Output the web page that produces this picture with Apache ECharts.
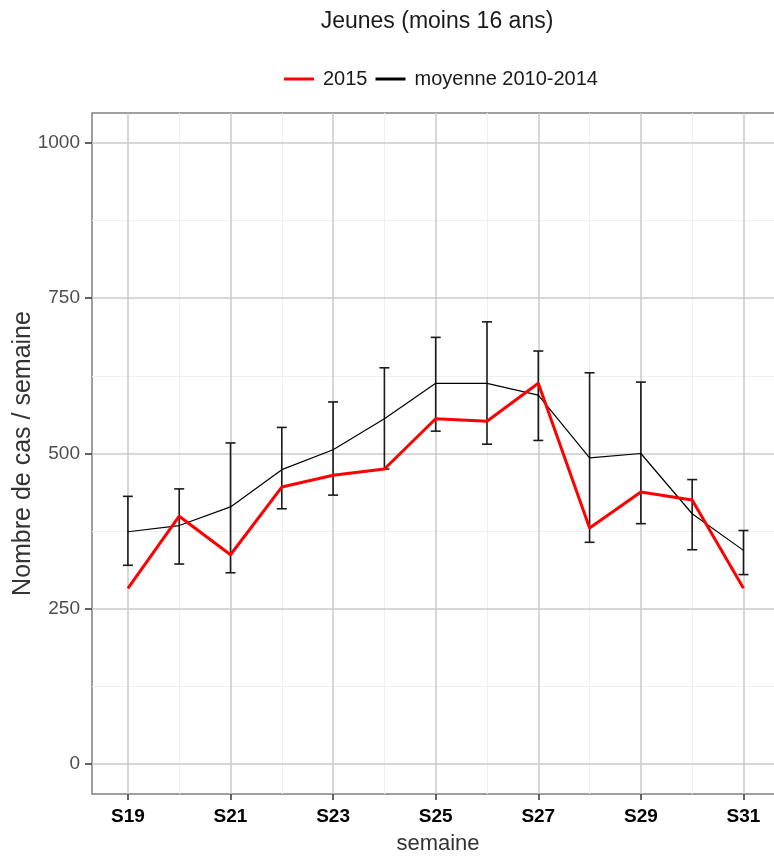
<!DOCTYPE html>
<html>
<head>
<meta charset="utf-8">
<script src="https://cdn.jsdelivr.net/npm/echarts@6/dist/echarts.min.js"></script>
<style>
  html, body { margin: 0; padding: 0; background: #fff; }
  #chart { width: 774px; height: 856px; }
</style>
</head>
<body>
<div id="chart"></div>
<script>
// semaines S19..S31
const semaines = [19, 20, 21, 22, 23, 24, 25, 26, 27, 28, 29, 30, 31];
const semainesAffichees = [19, 21, 23, 25, 27, 29, 31];
const annee2015 = [283, 399, 337, 446, 465, 475, 556, 552, 613, 380, 438, 425, 283];
const moyenne = [374, 384, 414, 474, 506, 556, 613, 613, 594, 493, 500, 403, 344];
const basse = [320, 322, 308, 411, 433, 475, 536, 515, 521, 357, 387, 345, 305];
const haute = [431, 443, 517, 542, 583, 638, 687, 712, 665, 630, 615, 458, 376];
const yTicks = [0, 250, 500, 750, 1000];
const yMinor = [125, 375, 625, 875];
const xMinor = [20, 22, 24, 26, 28, 30];

const font = 'Liberation Sans, Arial, sans-serif';

// lignes de grille (mineures d'abord, puis majeures)
const gridLines = [];
yMinor.forEach(v => gridLines.push({ yAxis: v, lineStyle: { color: '#f0f0f0', width: 1, type: 'solid' } }));
xMinor.forEach(v => gridLines.push({ xAxis: v, lineStyle: { color: '#f0f0f0', width: 1, type: 'solid' } }));
yTicks.forEach(v => gridLines.push({ yAxis: v, lineStyle: { color: '#cacaca', width: 1.5, type: 'solid' } }));
semainesAffichees.forEach(v => gridLines.push({ xAxis: v, lineStyle: { color: '#cacaca', width: 1.5, type: 'solid' } }));

let chart = echarts.init(document.getElementById('chart'));
chart.setOption({
    animation: false,
    title: {
        text: 'Jeunes (moins 16 ans)',
        left: 432,
        top: 5,
        textAlign: 'center',
        textStyle: { fontFamily: font, fontSize: 23, fontWeight: 'normal', color: '#1a1a1a' }
    },
    legend: {
        data: ['2015', 'moyenne 2010-2014'],
        left: 279,
        top: 64,
        icon: 'rect',
        itemWidth: 30,
        itemHeight: 3,
        itemGap: 8,
        textStyle: { fontFamily: font, fontSize: 20, color: '#1a1a1a', padding: [0, 0, 0, 4] }
    },
    grid: {
        left: 92,
        top: 113,
        right: -10,
        bottom: 62,
        outerBoundsMode: 'none',
        containLabel: false,
        show: true,
        borderColor: '#808080',
        borderWidth: 1.5,
        backgroundColor: '#fff'
    },
    xAxis: {
        type: 'value',
        min: 18.3,
        max: 31.79,
        name: 'semaine',
        nameLocation: 'middle',
        nameGap: 39,
        nameMoveOverlap: false,
        nameTextStyle: { fontFamily: font, fontSize: 22, color: '#333' },
        axisLine: { show: false, onZero: false },
        splitLine: { show: false },
        axisTick: { show: true, customValues: semainesAffichees, length: 6, lineStyle: { color: '#333', width: 1.5 } },
        axisLabel: {
            customValues: semainesAffichees,
            formatter: v => 'S' + v,
            margin: 13,
            fontFamily: font,
            fontSize: 19,
            fontWeight: 'bold',
            color: '#000'
        }
    },
    yAxis: {
        type: 'value',
        min: -48.3,
        max: 1048.3,
        name: 'Nombre de cas / semaine',
        nameLocation: 'middle',
        nameGap: 56,
        nameMoveOverlap: false,
        nameTextStyle: { fontFamily: font, fontSize: 25, color: '#333' },
        axisLine: { show: false, onZero: false },
        splitLine: { show: false },
        axisTick: { show: true, customValues: yTicks, length: 7, lineStyle: { color: '#333', width: 1.5 } },
        axisLabel: {
            customValues: yTicks,
            formatter: v => String(v),
            margin: 12,
            fontFamily: font,
            fontSize: 19,
            color: '#4d4d4d'
        }
    },
    series: [
        {
            name: 'grille',
            type: 'line',
            data: [],
            z: 1,
            silent: true,
            markLine: {
                silent: true,
                z: 1,
                symbol: 'none',
                label: { show: false },
                animation: false,
                data: gridLines
            }
        },
        {
            name: 'intervalle',
            type: 'custom',
            z: 3,
            silent: true,
            data: semaines.map((s, i) => [s, basse[i], haute[i]]),
            encode: { x: 0, y: [1, 2] },
            renderItem: function (params, api) {
                const x = api.value(0);
                const lo = api.coord([x, api.value(1)]);
                const hi = api.coord([x, api.value(2)]);
                const w = 5;
                const style = { stroke: '#1a1a1a', lineWidth: 1.6 };
                return {
                    type: 'group',
                    children: [
                        { type: 'line', shape: { x1: lo[0], y1: lo[1], x2: hi[0], y2: hi[1] }, style: style },
                        { type: 'line', shape: { x1: hi[0] - w, y1: hi[1], x2: hi[0] + w, y2: hi[1] }, style: style },
                        { type: 'line', shape: { x1: lo[0] - w, y1: lo[1], x2: lo[0] + w, y2: lo[1] }, style: style }
                    ]
                };
            }
        },
        {
            name: 'moyenne 2010-2014',
            type: 'line',
            z: 4,
            data: semaines.map((s, i) => [s, moyenne[i]]),
            showSymbol: false,
            color: '#000',
            lineStyle: { color: '#000', width: 1.2 }
        },
        {
            name: '2015',
            type: 'line',
            z: 5,
            data: semaines.map((s, i) => [s, annee2015[i]]),
            showSymbol: false,
            color: '#ff0000',
            lineStyle: { color: '#ff0000', width: 3 }
        }
    ]
});
</script>
</body>
</html>
